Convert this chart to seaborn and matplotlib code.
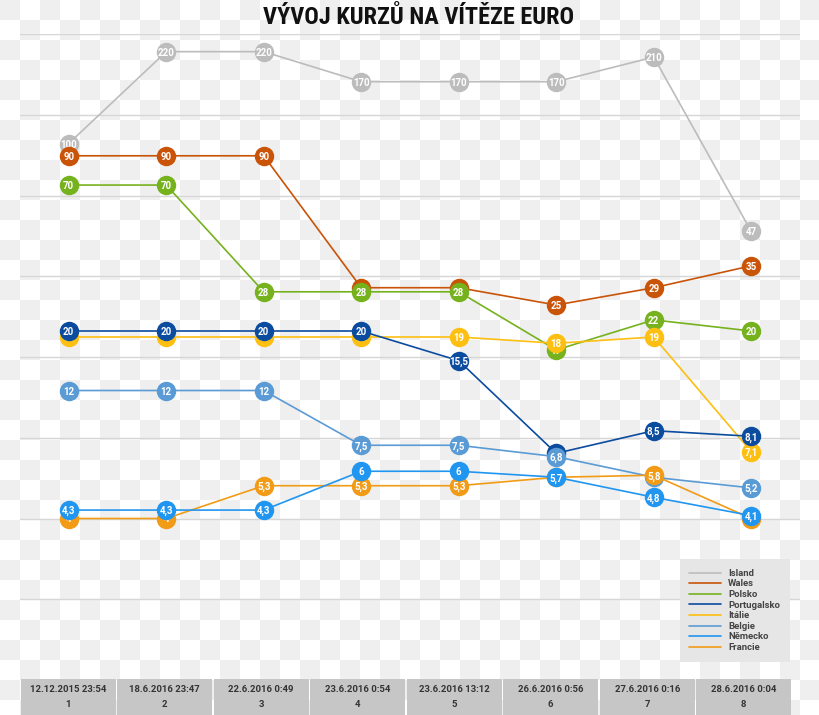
import numpy as np
import pandas as pd
import matplotlib
matplotlib.use("Agg")
import matplotlib.pyplot as plt
import seaborn as sns
from matplotlib.lines import Line2D

# ---------------- data ----------------
dates = ["12.12.2015 23:54", "18.6.2016 23:47", "22.6.2016 0:49", "23.6.2016 0:54",
         "23.6.2016 13:12", "26.6.2016 0:56", "27.6.2016 0:16", "28.6.2016 0:04"]
steps = [1, 2, 3, 4, 5, 6, 7, 8]

island = [100, 220, 220, 170, 170, 170, 210, 47]
wales = [90, 90, 90, 29, 29, 25, 29, 35]
polsko = [70, 70, 28, 28, 28, 17, 22, 20]
portugalsko = [20, 20, 20, 20, 15.5, 7, 8.5, 8.1]
italie = [19, 19, 19, 19, 19, 18, 19, 7.1]
belgie = [12, 12, 12, 7.5, 7.5, 6.8, 5.7, 5.2]
nemecko = [4.3, 4.3, 4.3, 6, 6, 5.7, 4.8, 4.1]
francie = [4, 4, 5.3, 5.3, 5.3, 5.7, 5.8, 4]

countries = ["Island", "Wales", "Polsko", "Portugalsko", "Itálie", "Belgie", "Německo", "Francie"]
values = [island, wales, polsko, portugalsko, italie, belgie, nemecko, francie]
colors = ["#bcbcbc", "#c95307", "#76b21e", "#0b4c9f", "#fdbf12", "#5b9bd5", "#2196f0", "#f29b17"]
draw_order = ["Island", "Wales", "Polsko", "Itálie", "Portugalsko", "Belgie", "Francie", "Německo"]

df = pd.DataFrame({
    "country": np.repeat(countries, len(steps)),
    "x": np.tile(np.arange(len(steps)), len(countries)),
    "value": np.concatenate(values),
})
palette = dict(zip(countries, colors))

# ---------------- figure ----------------
sns.set_theme(style="white")
plt.rcParams["font.family"] = ["Roboto", "DejaVu Sans"]

W, H = 820, 715
fig = plt.figure(figsize=(W / 100, H / 100), dpi=100)

# transparent-look checker background
bg = fig.add_axes([0, 0, 1, 1], zorder=-10)
nx, ny = 41, 36
ii, jj = np.meshgrid(np.arange(nx), np.arange(ny))
checker = np.where((ii + jj) % 2 == 0, 239, 255)
bg.imshow(checker, cmap="gray", vmin=0, vmax=255, extent=(0, nx * 20, ny * 20, 0),
          interpolation="nearest", aspect="auto")
bg.set_xlim(0, W)
bg.set_ylim(H, 0)
bg.axis("off")

ax = fig.add_axes([20 / W, 1 - 680 / H, 780 / W, 646 / H])
ax.set_facecolor("none")
ax.set_yscale("log", base=2)
ax.set_ylim(1, 256)
ax.set_xlim(-0.5, 7.5)
ax.set_yticks([2, 4, 8, 16, 32, 64, 128, 256])
ax.minorticks_off()
ax.yaxis.grid(True, color="#d6d6d6", lw=1.0)
ax.xaxis.grid(False)
ax.tick_params(left=False, bottom=False, labelleft=False, labelbottom=False)
for s in ax.spines.values():
    s.set_visible(False)


def fmt(v):
    s = ("%g" % v)
    return s.replace(".", ",")


for k, name in enumerate(draw_order):
    sub = df[df["country"] == name]
    z = 3 + 2 * k
    sns.lineplot(data=sub, x="x", y="value", color=palette[name], lw=1.2,
                 marker="o", markersize=14, markeredgewidth=0, ax=ax,
                 zorder=z, legend=False)
    for xi, v in zip(sub["x"], sub["value"]):
        ax.text(xi, v, fmt(v), color="white", fontsize=7, fontweight="bold",
                ha="center", va="center_baseline", zorder=z + 0.5)

ax.set_xlabel("")
ax.set_ylabel("")

# legend
handles = [Line2D([], [], color=c, lw=1.2) for c in colors]
leg = fig.legend(handles, countries, loc="lower right",
                 bbox_to_anchor=(790 / W, 1 - 662 / H), bbox_transform=fig.transFigure,
                 frameon=True, fontsize=6.8, handlelength=3.3, handletextpad=0.8,
                 labelspacing=0.17, borderpad=1.05, borderaxespad=0, fancybox=False,
                 facecolor="#e6e6e6", edgecolor="none", framealpha=1)
for t in leg.get_texts():
    t.set_color("#444444")
    t.set_fontweight("bold")

# category boxes at the bottom
ax2 = fig.add_axes([20 / W, 0, 772 / W, 36 / H])
ax2.set_xlim(-0.5, 7.5)
ax2.set_ylim(0, 1)
ax2.axis("off")
ax2.bar(np.arange(len(dates)), [1] * len(dates), width=0.98, color="#c6c6c6", edgecolor="none")
for i, (d, s) in enumerate(zip(dates, steps)):
    ax2.text(i, 0.72, d, ha="center", va="center", fontsize=6.8, fontweight="bold", color="#333333")
    ax2.text(i, 0.30, str(s), ha="center", va="center", fontsize=6.8, fontweight="bold", color="#333333")

# title
fig.text(419 / W, 1 - 18 / H, "VÝVOJ KURZŮ NA VÍTĚZE EURO", ha="center", va="center",
         fontsize=17.5, fontweight="bold",
         family=["Roboto Condensed", "DejaVu Sans Condensed", "Roboto", "DejaVu Sans"],
         color="#111111")

fig.savefig("out.png", dpi=100)
